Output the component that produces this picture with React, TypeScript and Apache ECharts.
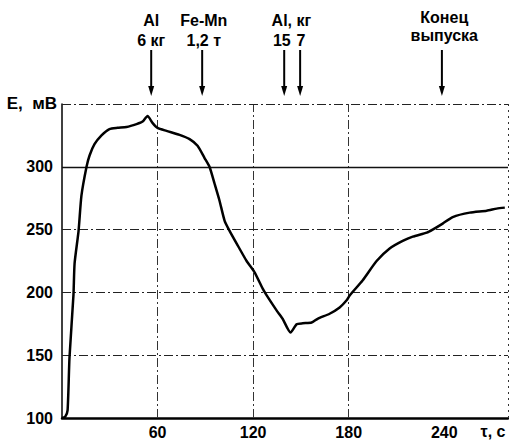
import React, { useEffect, useRef } from "react";
import * as echarts from "echarts";

// Time, s
const times = [0, 2, 3.5, 4.7, 7.2, 7.9, 10.4, 12.2, 15.4, 17.3, 20.4, 24.8, 29.8, 34.9, 40.5, 46.8, 50.6, 53.7, 56.8, 60, 65.6, 73.8, 80.1, 85.1, 89.5, 92.6, 95.8, 98.9, 102.1, 105.2, 109.6, 115.9, 120.9, 126, 128.5, 134.7, 138.5, 143.5, 147.3, 151.1, 156.7, 160.5, 168, 174.3, 178.7, 180.6, 188.7, 197.5, 205.7, 213.9, 220.2, 229, 232.7, 239, 245.3, 256, 266.6, 272.9, 278];
// EMF, mV
const emf = [100, 101, 106, 148, 198, 223, 249, 277, 300, 309, 318, 325, 330, 331, 331.7, 334, 336, 340.5, 335, 331, 328.6, 325.4, 322, 316.7, 307, 300, 286.5, 273, 257, 249, 239, 225, 216, 203, 197.6, 185.7, 179, 168, 174.6, 175.4, 176, 179, 183, 188, 193.7, 197.6, 209.5, 225, 235, 241, 244.4, 247.6, 250, 254.8, 260, 263.5, 265, 266.7, 267.5];

const xTickLabels = [60, 120, 180, 240];
const yTickLabels = [100, 150, 200, 250, 300];
const xGridLines = [60, 120, 180, 280];
const yDashGridLines = [150, 200, 250, 350];
const ySolidGridLines = [300];

const labelLine1 = ["Al", "Fe-Mn", "Al, кг", "Конец"];
const labelLine1X = [56, 89, 144, 240];
const labelLine2 = ["6 кг", "1,2 т", "15", "7", "выпуска"];
const labelLine2X = [56, 89, 138, 150, 240];
const arrowX = [56, 88, 139.5, 149.5, 238.5];

export default function App() {
  const ref = useRef<HTMLDivElement>(null);
  useEffect(() => {
    const chart = echarts.init(ref.current!, null, { renderer: "svg" });
    const font = "'Liberation Sans', Arial, sans-serif";
    const dashDot = [9, 3, 2, 3];
    const gridData: any[] = [];
    xGridLines.forEach((v) => gridData.push({ xAxis: v, lineStyle: { type: v === 280 ? [2, 4] : dashDot, width: 1, color: "#333" } }));
    yDashGridLines.forEach((v) => gridData.push({ yAxis: v, lineStyle: { type: dashDot, width: 1, color: "#222" } }));
    ySolidGridLines.forEach((v) => gridData.push({ yAxis: v, lineStyle: { type: "solid", width: 1.3, color: "#111" } }));

    chart.setOption({
      animation: false,
      backgroundColor: "#fff",
      grid: { left: 62, right: 1, top: 104, bottom: 23 },
      xAxis: {
        type: "value",
        min: 0,
        max: 280,
        interval: 60,
        axisLine: { lineStyle: { color: "#000", width: 2.5 } },
        axisTick: { show: false },
        splitLine: { show: false },
        axisLabel: {
          formatter: (v: number) => (xTickLabels.includes(v) ? String(v) : ""),
          color: "#000",
          fontWeight: "bold",
          fontSize: 16,
          fontFamily: font,
          margin: 6,
          showMaxLabel: false,
        },
      },
      yAxis: {
        type: "value",
        min: 100,
        max: 350,
        interval: 50,
        axisLine: { show: true, lineStyle: { color: "#000", width: 1.5 } },
        axisTick: { show: false },
        splitLine: { show: false },
        axisLabel: {
          formatter: (v: number) => (yTickLabels.includes(v) ? String(v) : ""),
          color: "#000",
          fontWeight: "bold",
          fontSize: 16,
          fontFamily: font,
          margin: 9,
        },
      },
      series: [
        {
          type: "line",
          data: times.map((t, i) => [t, emf[i]]),
          showSymbol: false,
          smooth: 0.2,
          lineStyle: { color: "#000", width: 2.5 },
          z: 5,
          markLine: {
            silent: true,
            symbol: "none",
            label: { show: false },
            data: gridData,
            z: 1,
          },
        },
      ],
    });

    const px = (x: number) => chart.convertToPixel({ xAxisIndex: 0 }, x) as number;
    const textStyle = (text: string, x: number, y: number) => ({
      type: "text",
      style: { text, x, y, align: "center", verticalAlign: "middle", fontSize: 16, fontWeight: "bold", fontFamily: font, fill: "#000" },
    });
    const graphics: any[] = [];
    labelLine1.forEach((t, i) => graphics.push(textStyle(t, px(labelLine1X[i]), i === 3 ? 17 : 20)));
    labelLine2.forEach((t, i) => graphics.push(textStyle(t, px(labelLine2X[i]), i === 4 ? 35 : 40)));
    arrowX.forEach((x) => {
      const p = px(x);
      graphics.push({ type: "line", shape: { x1: p, y1: 50, x2: p, y2: 90 }, style: { stroke: "#000", lineWidth: 2 } });
      graphics.push({ type: "polygon", shape: { points: [[p - 3, 86], [p + 3, 86], [p, 96]] }, style: { fill: "#000" } });
    });
    graphics.push({
      type: "text",
      style: { text: "E,  мВ", x: 57, y: 103, align: "right", verticalAlign: "middle", fontSize: 17, fontWeight: "bold", fontFamily: font, fill: "#000" },
    });
    graphics.push({
      type: "text",
      style: { text: "τ, c", x: 493, y: 431, align: "center", verticalAlign: "middle", fontSize: 16, fontWeight: "bold", fontFamily: font, fill: "#000" },
    });
    chart.setOption({ graphic: graphics });

    return () => chart.dispose();
  }, []);
  return <div ref={ref} style={{ position: "fixed", left: 0, top: 0, width: 509, height: 441, background: "#fff" }} />;
}
